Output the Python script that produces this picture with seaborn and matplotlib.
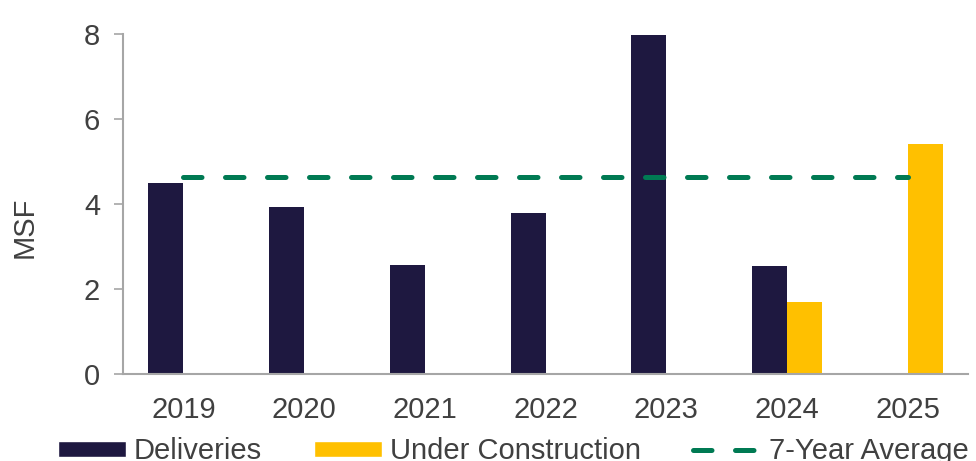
import matplotlib
matplotlib.use("Agg")
import matplotlib.pyplot as plt
import seaborn as sns
import pandas as pd
import numpy as np
from matplotlib.patches import Patch
from matplotlib.lines import Line2D

years = ["2019", "2020", "2021", "2022", "2023", "2024", "2025"]
deliveries = [4.49, 3.94, 2.56, 3.78, 7.99, 2.53, np.nan]
under_construction = [np.nan, np.nan, np.nan, np.nan, np.nan, 1.70, 5.41]
seven_year_avg = 4.63
y_ticks = [0, 2, 4, 6, 8]

series_names = ["Deliveries", "Under Construction"]
colors = {"Deliveries": "#1E1840", "Under Construction": "#FFC000"}
avg_color = "#007A53"
text_color = "#404040"
spine_color = "#A6A6A6"

df = pd.DataFrame({
    "Year": years * 2,
    "Series": [series_names[0]] * len(years) + [series_names[1]] * len(years),
    "Value": deliveries + under_construction,
})

sns.set_theme(style="white")
plt.rcParams["font.family"] = ["Liberation Sans", "DejaVu Sans"]

FS = 21
LW = 3.6
DASH = (0, (3.7, 4.7))

fig = plt.figure(figsize=(9.76, 4.61), dpi=100)
ax = fig.add_axes([0.126, 0.189, 0.866, 0.737])

sns.barplot(data=df, x="Year", y="Value", hue="Series", order=years,
            hue_order=series_names, palette=colors, width=0.58,
            saturation=1, ax=ax, legend=False, linewidth=0)

ax.plot(range(len(years)), [seven_year_avg] * len(years), color=avg_color,
        lw=LW, linestyle=DASH, dash_capstyle="round", zorder=3)

ax.set_xlim(-0.5, len(years) - 0.5)
ax.set_ylim(0, 8)
ax.set_yticks(y_ticks)
ax.set_xlabel("")
ax.set_ylabel("MSF", fontsize=FS, color=text_color)
ax.yaxis.set_label_coords(-0.1, 0.432)

ax.set_xticks(np.arange(len(years)))
ax.set_xticklabels(years)
ax.set_xticks(np.arange(-0.5, len(years)), minor=True)
ax.tick_params(axis="x", which="major", length=0, pad=16, labelsize=FS, labelcolor=text_color)
ax.tick_params(axis="x", which="minor", length=6, width=1.2, color=spine_color, direction="out")
ax.tick_params(axis="y", length=6.5, width=1.2, color=spine_color, labelsize=FS,
               labelcolor=text_color, pad=10, left=True)

for s in ["top", "right"]:
    ax.spines[s].set_visible(False)
for s in ["left", "bottom"]:
    ax.spines[s].set_color(spine_color)
    ax.spines[s].set_linewidth(1.5)

handles = [
    Patch(facecolor=colors["Deliveries"], label="Deliveries"),
    Patch(facecolor=colors["Under Construction"], label="Under Construction"),
    Line2D([0], [0], color=avg_color, lw=LW, linestyle=DASH,
           dash_capstyle="round", label="7-Year Average"),
]
fig.legend(handles=handles, loc="center", bbox_to_anchor=(0.526, 0.021), ncol=3,
           frameon=False, fontsize=FS, handlelength=2.33, handleheight=0.51,
           handletextpad=0.27, columnspacing=1.8, labelcolor=text_color,
           borderpad=0, borderaxespad=0)

fig.savefig("out.png", dpi=100)
